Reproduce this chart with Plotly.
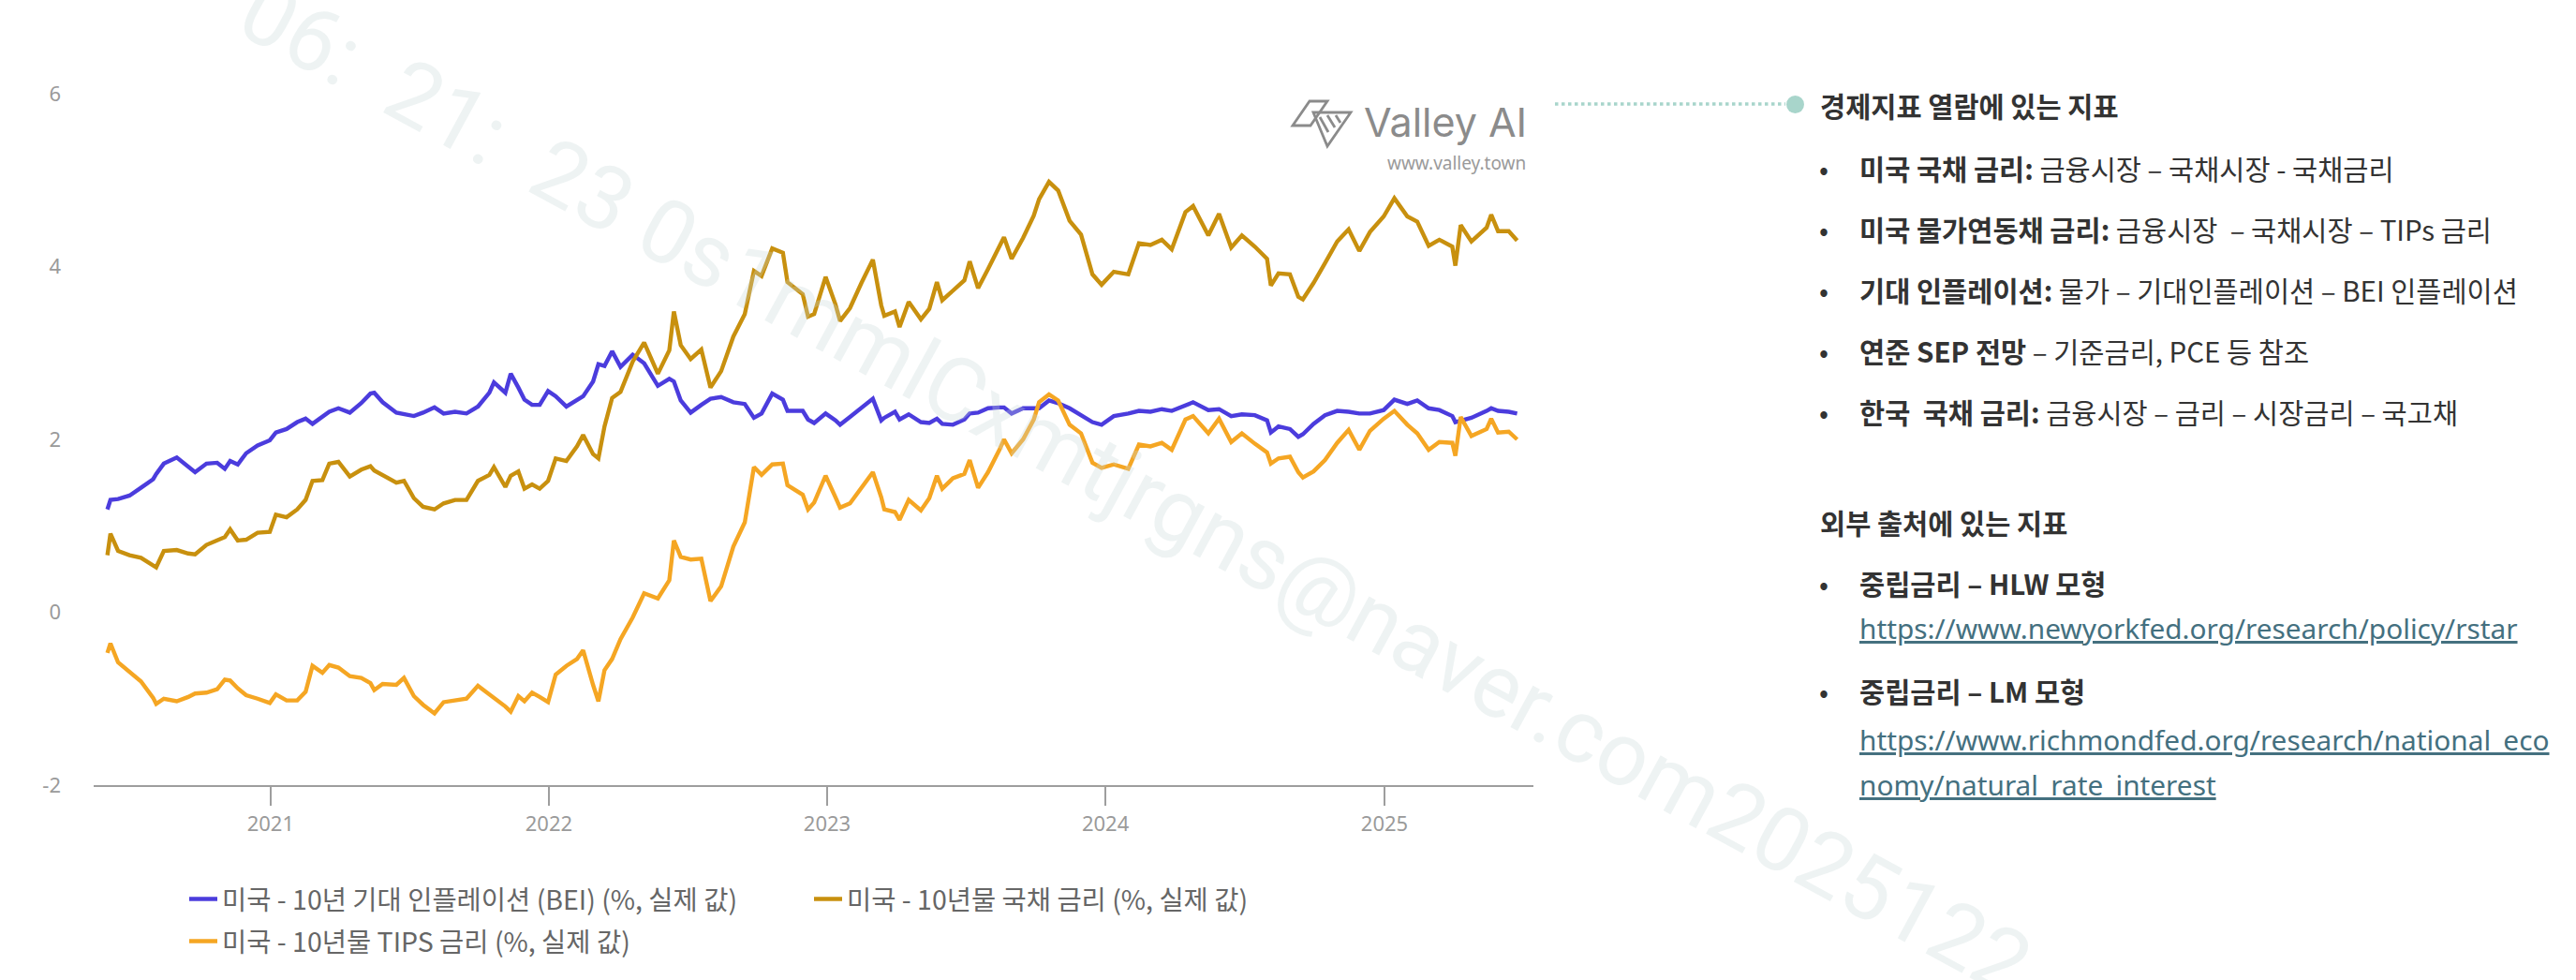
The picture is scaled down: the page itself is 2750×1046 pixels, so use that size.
import plotly.graph_objects as go

# ---------------- data ----------------
dates = [
    "2020-06-01", "2020-06-05", "2020-06-15", "2020-06-30", "2020-07-15", "2020-07-31", "2020-08-04", "2020-08-14", "2020-08-31",
    "2020-09-15", "2020-09-24", "2020-10-09", "2020-10-23", "2020-11-02", "2020-11-09", "2020-11-19", "2020-11-30", "2020-12-15", "2020-12-31",
    "2021-01-08", "2021-01-22", "2021-02-05", "2021-02-16", "2021-02-25", "2021-03-10", "2021-03-19", "2021-03-31", "2021-04-15", "2021-04-30",
    "2021-05-12", "2021-05-17", "2021-05-28", "2021-06-15", "2021-06-25", "2021-07-08", "2021-07-20", "2021-08-04", "2021-08-16", "2021-08-31",
    "2021-09-15", "2021-09-30", "2021-10-15", "2021-10-21", "2021-11-05", "2021-11-12", "2021-11-22", "2021-11-30", "2021-12-10", "2021-12-20", "2021-12-31",
    "2022-01-10", "2022-01-24", "2022-02-07", "2022-02-15", "2022-02-28", "2022-03-07", "2022-03-15", "2022-03-25", "2022-04-05", "2022-04-21",
    "2022-05-06", "2022-05-24", "2022-06-08", "2022-06-14", "2022-06-23", "2022-07-06", "2022-07-20", "2022-08-01", "2022-08-15", "2022-08-31",
    "2022-09-15", "2022-09-27", "2022-10-07", "2022-10-21", "2022-11-04", "2022-11-10", "2022-11-30", "2022-12-07", "2022-12-15", "2022-12-30",
    "2023-01-12", "2023-01-18", "2023-01-31", "2023-02-15", "2023-03-02", "2023-03-13", "2023-03-17", "2023-03-31", "2023-04-06", "2023-04-18",
    "2023-05-04", "2023-05-15", "2023-05-25", "2023-06-01", "2023-06-15", "2023-06-30", "2023-07-07", "2023-07-18", "2023-07-31", "2023-08-15",
    "2023-08-21", "2023-08-31", "2023-09-15", "2023-09-29", "2023-10-06", "2023-10-19", "2023-10-31", "2023-11-15", "2023-11-30", "2023-12-15", "2023-12-27",
    "2024-01-12", "2024-01-31", "2024-02-14", "2024-02-29", "2024-03-15", "2024-03-28", "2024-04-15", "2024-04-25", "2024-05-15", "2024-05-29",
    "2024-06-14", "2024-06-28", "2024-07-15", "2024-07-31", "2024-08-05", "2024-08-15", "2024-08-30", "2024-09-10", "2024-09-16", "2024-09-30",
    "2024-10-15", "2024-10-31", "2024-11-15", "2024-11-29", "2024-12-13", "2024-12-31",
    "2025-01-14", "2025-01-31", "2025-02-13", "2025-02-28", "2025-03-14", "2025-03-31", "2025-04-04", "2025-04-11", "2025-04-25", "2025-05-15",
    "2025-05-21", "2025-05-30", "2025-06-13", "2025-06-24",
]

bei_10y = [
    1.19, 1.30, 1.31, 1.35, 1.44, 1.54, 1.60, 1.72, 1.79,
    1.69, 1.62, 1.72, 1.73, 1.66, 1.75, 1.71, 1.84, 1.93, 1.99,
    2.08, 2.12, 2.20, 2.24, 2.18, 2.26, 2.32, 2.36, 2.31, 2.42,
    2.53, 2.54, 2.43, 2.31, 2.29, 2.27, 2.31, 2.37, 2.30, 2.32,
    2.30, 2.38, 2.54, 2.66, 2.54, 2.76, 2.60, 2.46, 2.40, 2.40, 2.56,
    2.50, 2.38, 2.46, 2.50, 2.67, 2.87, 2.85, 3.02, 2.84, 2.98,
    2.88, 2.62, 2.70, 2.67, 2.45, 2.31, 2.40, 2.47, 2.49, 2.43,
    2.41, 2.25, 2.30, 2.53, 2.46, 2.33, 2.33, 2.23, 2.19, 2.30,
    2.22, 2.17, 2.26, 2.36, 2.47, 2.22, 2.25, 2.32, 2.23, 2.29,
    2.20, 2.19, 2.24, 2.18, 2.17, 2.23, 2.30, 2.31, 2.36, 2.37,
    2.37, 2.30, 2.36, 2.36, 2.36, 2.45, 2.42, 2.36, 2.28, 2.20, 2.17,
    2.27, 2.30, 2.33, 2.32, 2.35, 2.33, 2.40, 2.43, 2.34, 2.35,
    2.27, 2.29, 2.28, 2.22, 2.08, 2.15, 2.12, 2.03, 2.06, 2.18,
    2.28, 2.33, 2.32, 2.30, 2.30, 2.34,
    2.46, 2.41, 2.45, 2.36, 2.34, 2.27, 2.20, 2.22, 2.25, 2.33,
    2.36, 2.33, 2.32, 2.30,
]

treasury_10y = [
    0.66, 0.91, 0.71, 0.66, 0.63, 0.55, 0.52, 0.71, 0.72,
    0.68, 0.67, 0.78, 0.84, 0.87, 0.96, 0.83, 0.84, 0.92, 0.93,
    1.13, 1.10, 1.19, 1.30, 1.52, 1.53, 1.72, 1.74, 1.57, 1.65,
    1.69, 1.64, 1.59, 1.50, 1.52, 1.32, 1.22, 1.19, 1.26, 1.30,
    1.30, 1.52, 1.59, 1.68, 1.45, 1.58, 1.63, 1.43, 1.48, 1.43, 1.52,
    1.78, 1.75, 1.92, 2.05, 1.83, 1.78, 2.15, 2.48, 2.55, 2.90,
    3.12, 2.76, 3.03, 3.48, 3.09, 2.93, 3.04, 2.60, 2.79, 3.19,
    3.45, 3.95, 3.89, 4.21, 4.16, 3.82, 3.68, 3.42, 3.45, 3.88,
    3.56, 3.37, 3.52, 3.81, 4.08, 3.55, 3.43, 3.48, 3.30, 3.59,
    3.39, 3.51, 3.82, 3.61, 3.72, 3.84, 4.06, 3.75, 3.97, 4.22,
    4.34, 4.09, 4.33, 4.59, 4.78, 4.98, 4.88, 4.53, 4.37, 3.91, 3.79,
    3.94, 3.91, 4.27, 4.25, 4.31, 4.20, 4.63, 4.70, 4.36, 4.61,
    4.22, 4.36, 4.23, 4.09, 3.78, 3.92, 3.91, 3.65, 3.62, 3.81,
    4.04, 4.29, 4.43, 4.18, 4.40, 4.58,
    4.79, 4.58, 4.52, 4.24, 4.31, 4.23, 4.01, 4.48, 4.29, 4.45,
    4.60, 4.41, 4.41, 4.30,
]

tips_10y = [
    -0.47, -0.36, -0.58, -0.69, -0.80, -0.99, -1.06, -1.00, -1.03,
    -0.98, -0.94, -0.93, -0.89, -0.78, -0.79, -0.88, -0.96, -1.00, -1.05,
    -0.95, -1.02, -1.02, -0.92, -0.62, -0.70, -0.61, -0.64, -0.74, -0.76,
    -0.82, -0.90, -0.83, -0.84, -0.76, -0.97, -1.07, -1.17, -1.04, -1.02,
    -1.00, -0.85, -0.95, -0.98, -1.09, -1.15, -0.97, -1.03, -0.93, -0.98, -1.04,
    -0.72, -0.62, -0.54, -0.44, -0.84, -1.03, -0.67, -0.54, -0.31, -0.06,
    0.22, 0.16, 0.37, 0.83, 0.64, 0.61, 0.62, 0.13, 0.30, 0.76,
    1.04, 1.68, 1.59, 1.71, 1.72, 1.47, 1.36, 1.19, 1.27, 1.58,
    1.33, 1.21, 1.26, 1.45, 1.62, 1.33, 1.19, 1.16, 1.07, 1.30,
    1.18, 1.32, 1.58, 1.43, 1.55, 1.60, 1.76, 1.44, 1.62, 1.88,
    2.00, 1.84, 2.00, 2.23, 2.43, 2.52, 2.45, 2.17, 2.07, 1.73, 1.67,
    1.71, 1.66, 1.94, 1.92, 1.96, 1.88, 2.23, 2.27, 2.07, 2.24,
    1.97, 2.07, 1.95, 1.85, 1.72, 1.78, 1.80, 1.62, 1.56, 1.63,
    1.76, 1.96, 2.11, 1.88, 2.10, 2.24,
    2.33, 2.17, 2.07, 1.88, 1.97, 1.96, 1.81, 2.26, 2.04, 2.12,
    2.24, 2.08, 2.09, 2.00,
]

series_names = [
    "미국 - 10년 기대 인플레이션 (BEI) (%, 실제 값)",
    "미국 - 10년물 국채 금리 (%, 실제 값)",
    "미국 - 10년물 TIPS 금리 (%, 실제 값)",
]

x_tick_vals = ["2021-01-01", "2022-01-01", "2023-01-01", "2024-01-01", "2025-01-01"]
x_tick_text = ["2021", "2022", "2023", "2024", "2025"]
y_tick_vals = [-2, 0, 2, 4, 6]
y_tick_text = ["-2", "0", "2", "4", "6"]

panel_header_1 = "경제지표 열람에 있는 지표"
panel_items_1 = [
    ("미국 국채 금리:", " 금융시장 – 국채시장 - 국채금리"),
    ("미국 물가연동채 금리:", " 금융시장 \u00a0– 국채시장 – TIPs 금리"),
    ("기대 인플레이션:", " 물가 – 기대인플레이션 – BEI 인플레이션"),
    ("연준 SEP 전망", " – 기준금리, PCE 등 참조"),
    ("한국 \u00a0국채 금리:", " 금융시장 – 금리 – 시장금리 – 국고채"),
]
panel_header_2 = "외부 출처에 있는 지표"
panel_items_2 = [
    ("중립금리 – HLW 모형", ["https://www.newyorkfed.org/research/policy/rstar"]),
    ("중립금리 – LM 모형", ["https://www.richmondfed.org/research/national_eco",
                       "nomy/natural_rate_interest"]),
]
brand_name = "Valley AI"
brand_url = "www.valley.town"
watermark_text = "06:\u00a0\u00a021:\u00a0\u00a023 0s1mmlCxmtjrgns@naver.com2025122"

# ---------------- layout geometry (pixels) ----------------
W, H = 2750, 1046
ML, MR, MT, MB = 100, 1113, 100, 208
PW = W - ML - MR
PH = H - MT - MB


def px(x):
    return (x - ML) / PW


def py(y):
    return (H - MB - y) / PH


KR = "Noto Sans CJK KR, Noto Sans, sans-serif"
colors = ["#4B3CDD", "#C8900E", "#F5A623"]

fig = go.Figure()
values = [bei_10y, treasury_10y, tips_10y]
legends = ["legend", "legend", "legend2"]
for name, vals, col, lg in zip(series_names, values, colors, legends):
    fig.add_trace(go.Scatter(
        x=dates, y=vals, name=name, mode="lines",
        line=dict(color=col, width=4.4), legend=lg,
    ))

annotations = []


def ann(text, x, y, size, color, family=KR, xanchor="left", yanchor="middle", angle=0):
    annotations.append(dict(
        text=text, x=px(x), y=py(y), xref="paper", yref="paper", showarrow=False,
        xanchor=xanchor, yanchor=yanchor, textangle=angle,
        font=dict(size=size, color=color, family=family),
    ))


# watermark
ann(watermark_text, 1212, 520, 95, "rgba(200,214,214,0.30)", family="Roboto",
    xanchor="center", yanchor="middle", angle=28.6)

# right panel
TX = 1983
BX = 1940
FS = 29.5
DY = -3
ann("<b>" + panel_header_1 + "</b>", 1941, 115 + DY, FS, "#333333")
for (bold, rest), yy in zip(panel_items_1, [182, 247, 312, 377, 442]):
    ann("•", BX, yy + DY, FS, "#333333")
    ann("<b>" + bold + "</b>" + rest, TX, yy + DY, FS, "#333333")
ann("<b>" + panel_header_2 + "</b>", 1941, 560 + DY, FS, "#333333")
rows2 = [(625, [673]), (740, [792, 840])]
for (title, links), (yt, ylinks) in zip(panel_items_2, rows2):
    ann("•", BX, yt + DY, FS, "#333333")
    ann("<b>" + title + "</b>", TX, yt + DY, FS, "#333333")
    for link, yl in zip(links, ylinks):
        ann("<u>" + link + "</u>", TX, yl + DY, 29.8, "#44707F", family="Noto Sans, sans-serif")

# brand mark
ann(brand_name, 1632, 130, 43, "#8b8b8b", family="Inter, sans-serif", xanchor="right")
ann(brand_url, 1631, 174, 19, "#9a9a9a", family="Noto Sans, sans-serif", xanchor="right")


def path(points, closed=False):
    s = "M" + " L".join(f"{px(a):.5f},{py(b):.5f}" for a, b in points)
    return s + (" Z" if closed else "")


shapes = [
    dict(type="line", xref="paper", yref="paper", x0=px(1660), x1=px(1906), y0=py(111), y1=py(111),
         line=dict(color="#A8D5CB", width=3.5, dash="dot")),
    dict(type="circle", xref="paper", yref="paper", x0=px(1907), x1=px(1926), y0=py(102), y1=py(121),
         fillcolor="#A8D5CB", line=dict(width=0)),
]
logo_paths = [
    ([(1380, 134), (1398, 108), (1417, 108), (1399, 134)], True),
    ([(1402, 120), (1442, 120), (1417, 156)], True),
    ([(1409, 125), (1418, 141)], False),
    ([(1417, 123), (1425, 136)], False),
    ([(1426, 123), (1431, 131)], False),
]
for pts, closed in logo_paths:
    shapes.append(dict(type="path", xref="paper", yref="paper", path=path(pts, closed),
                       line=dict(color="#8b8b8b", width=2.8)))

fig.update_layout(
    width=W, height=H, autosize=False,
    margin=dict(l=ML, r=MR, t=MT, b=MB, pad=0),
    paper_bgcolor="white", plot_bgcolor="white",
    font=dict(family=KR, color="#666666"),
    showlegend=True,
    legend=dict(orientation="h", x=px(197), y=py(960), xanchor="left", yanchor="middle",
                entrywidth=622, entrywidthmode="pixels", bgcolor="rgba(0,0,0,0)",
                font=dict(size=28.5, color="#666666", family=KR), traceorder="normal"),
    legend2=dict(orientation="h", x=px(197), y=py(1005), xanchor="left", yanchor="middle",
                 bgcolor="rgba(0,0,0,0)", font=dict(size=28.5, color="#666666", family=KR)),
    xaxis=dict(type="date", range=["2020-05-14", "2025-07-15 09:00"],
               tickmode="array", tickvals=x_tick_vals, ticktext=x_tick_text,
               showgrid=False, zeroline=False, showline=True, linecolor="#9e9e9e", linewidth=2,
               ticks="outside", ticklen=20, tickwidth=1.5, tickcolor="#9e9e9e",
               tickfont=dict(size=22, color="#9a9a9a", family="Noto Sans, sans-serif"),
               ticklabelstandoff=1),
    yaxis=dict(range=[-2, 6], tickmode="array", tickvals=y_tick_vals, ticktext=y_tick_text,
               showgrid=False, zeroline=False, showline=False, ticks="",
               tickfont=dict(size=22, color="#9a9a9a", family="Noto Sans, sans-serif"),
               ticklabelstandoff=34),
    annotations=annotations,
    shapes=shapes,
)

fig.write_html("out.html", config={"displayModeBar": False})
